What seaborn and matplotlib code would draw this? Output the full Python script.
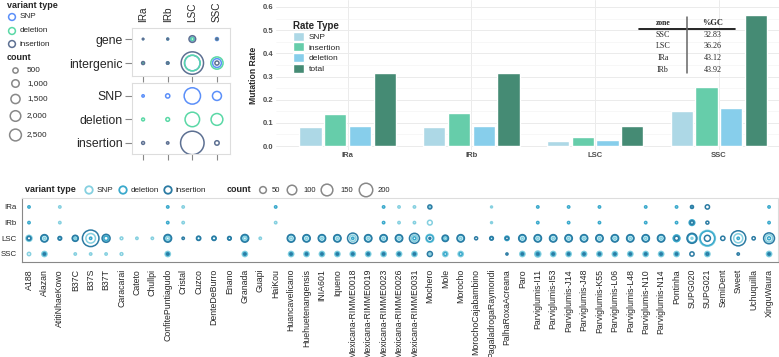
import numpy as np
import pandas as pd
import matplotlib.pyplot as plt
import seaborn as sns

sns.set_style("white")
plt.rcParams['font.family'] = ['Liberation Sans', 'DejaVu Sans']

# ---- datos panel arriba izquierda (conteos por zona) ----
zonas = ["IRa", "IRb", "LSC", "SSC"]
tipos = ["SNP", "deletion", "insertion"]
filas_genic = ["gene", "intergenic"]

gene_snp = [20, 60, 250, 160]
gene_del = [15, 40, 150, 40]
gene_ins = [40, 50, 800, 60]
inter_snp = [60, 100, 4300, 1400]
inter_del = [60, 80, 4400, 2700]
inter_ins = [160, 100, 9000, 300]

total_snp = [100, 320, 4800, 1450]
total_del = [150, 250, 3800, 2500]
total_ins = [150, 100, 9900, 360]

leyenda_count = [500, 1000, 1500, 2000, 2500]

# ---- datos barras (tasa de mutacion) ----
tipos_tasa = ["SNP", "insertion", "deletion", "total"]
tasa_snp = [0.082, 0.083, 0.023, 0.150]
tasa_ins = [0.140, 0.141, 0.039, 0.255]
tasa_del = [0.088, 0.088, 0.025, 0.163]
tasa_total = [0.314, 0.314, 0.086, 0.567]

gc_zonas = ["SSC", "LSC", "IRa", "IRb"]
gc_valores = ["32.83", "36.26", "43.12", "43.92"]

# ---- datos panel de abajo (por accesion) ----
accesiones = ["A188", "Alazan", "AtitiNhaeKowo", "B37C", "B37S", "B37T", "Caracarai",
              "Cateto", "Chullpi", "ConfitePuntiagudo", "Cristal", "Cuzco", "DenteDeBurro",
              "Enano", "Granada", "Guapi", "HaiKou", "Huancavelicano", "Huehuetenangensis",
              "INIA601", "Iqueno", "Mexicana-RIMME0018", "Mexicana-RIMME0019",
              "Mexicana-RIMME0023", "Mexicana-RIMME0026", "Mexicana-RIMME0031", "Mochero",
              "Mole", "Morocho", "MorochoCajabambino", "PagaladrogaRaymondi",
              "PalhaRoxaAcreana", "Paro", "Parviglumis-I11", "Parviglumis-I53",
              "Parviglumis-J14", "Parviglumis-J48", "Parviglumis-K55", "Parviglumis-L06",
              "Parviglumis-L48", "Parviglumis-N10", "Parviglumis-N14", "Pontinha",
              "SUPG020", "SUPG021", "SemiDent", "Sweet", "Uchuquilla", "XinguWaura"]

lsc_snp = [40, 6, 0, 4, 100, 40, 8, 6, 6, 10,
           0, 0, 0, 0, 10, 6, 0, 8, 6, 6,
           6, 45, 6, 6, 6, 45, 70, 6, 6, 0,
           0, 0, 6, 6, 6, 6, 6, 6, 6, 6,
           6, 6, 50, 4, 280, 0, 90, 0, 60]
lsc_del = [20, 45, 8, 30, 6, 20, 0, 0, 0, 45,
           0, 14, 14, 10, 45, 0, 0, 50, 45, 45,
           45, 6, 45, 45, 45, 10, 50, 30, 45, 0,
           8, 22, 45, 45, 45, 45, 45, 45, 45, 45,
           45, 45, 45, 80, 230, 0, 6, 0, 10]
lsc_ins = [15, 60, 15, 40, 300, 70, 0, 0, 0, 65,
           6, 20, 20, 15, 65, 0, 0, 65, 60, 60,
           60, 120, 60, 60, 60, 110, 4, 45, 60, 10,
           15, 10, 60, 60, 60, 60, 60, 60, 60, 60,
           60, 60, 20, 110, 40, 20, 250, 12, 130]
ssc_snp = [12, 30, 0, 6, 6, 6, 8, 0, 0, 30,
           0, 0, 0, 0, 30, 0, 0, 30, 30, 30,
           30, 30, 30, 30, 30, 30, 6, 30, 30, 0,
           0, 0, 30, 40, 30, 30, 30, 30, 30, 30,
           30, 30, 30, 0, 30, 0, 0, 0, 30]
ssc_del = [0, 10, 0, 0, 0, 0, 0, 0, 0, 10,
           0, 0, 0, 0, 10, 0, 0, 10, 10, 10,
           10, 10, 10, 10, 10, 10, 0, 10, 10, 0,
           0, 0, 10, 15, 10, 10, 10, 10, 10, 10,
           10, 10, 10, 0, 10, 0, 0, 0, 10]
ssc_ins = [0, 4, 0, 0, 0, 0, 0, 0, 0, 4,
           0, 0, 0, 0, 4, 0, 0, 4, 4, 4,
           4, 4, 4, 4, 4, 4, 28, 0, 0, 0,
           0, 5, 4, 4, 4, 4, 4, 4, 4, 4,
           4, 4, 4, 20, 5, 0, 6, 0, 4]
ira_snp = [0, 0, 6, 0, 0, 0, 0, 0, 0, 0,
           6, 0, 0, 0, 0, 0, 0, 0, 0, 0,
           0, 0, 0, 0, 6, 6, 4, 0, 0, 0,
           4, 0, 0, 0, 0, 0, 0, 0, 0, 0,
           0, 0, 0, 0, 0, 0, 0, 0, 0]
ira_del = [6, 0, 0, 0, 0, 0, 0, 0, 0, 6,
           0, 0, 0, 0, 0, 0, 6, 0, 0, 0,
           0, 0, 0, 6, 0, 0, 0, 0, 0, 0,
           0, 0, 0, 6, 0, 6, 0, 6, 0, 0,
           6, 0, 6, 6, 0, 0, 0, 0, 6]
ira_ins = [0, 0, 0, 0, 0, 0, 0, 0, 0, 0,
           0, 0, 0, 0, 0, 0, 0, 0, 0, 0,
           0, 0, 0, 0, 0, 0, 18, 0, 0, 0,
           0, 0, 0, 0, 0, 0, 0, 0, 0, 0,
           0, 0, 0, 10, 20, 0, 0, 0, 0]
irb_snp = [0, 0, 6, 0, 0, 0, 0, 0, 0, 0,
           6, 0, 0, 0, 0, 0, 6, 0, 0, 0,
           0, 0, 0, 0, 6, 6, 25, 0, 0, 0,
           4, 0, 0, 0, 0, 0, 0, 0, 0, 0,
           0, 0, 0, 8, 0, 0, 0, 0, 0]
irb_del = [6, 0, 0, 0, 0, 0, 0, 0, 0, 6,
           0, 0, 0, 0, 0, 0, 0, 0, 0, 0,
           0, 0, 0, 6, 0, 0, 0, 0, 0, 0,
           0, 0, 0, 6, 0, 6, 0, 6, 0, 0,
           6, 0, 6, 35, 0, 0, 0, 0, 6]
irb_ins = [0, 0, 0, 0, 0, 0, 0, 0, 0, 0,
           0, 0, 0, 0, 0, 0, 0, 0, 0, 0,
           0, 0, 0, 0, 0, 0, 0, 0, 0, 0,
           0, 0, 0, 0, 0, 0, 0, 0, 0, 0,
           0, 0, 0, 15, 10, 0, 0, 0, 0]
leyenda_count_acc = [50, 100, 150, 200]

# colores
pal_tl = {"SNP": "#5B8FF9", "deletion": "#5AD8A6", "insertion": "#5D7092"}
pal_acc = {"SNP": "#85d0e0", "deletion": "#3aa9cc", "insertion": "#2b7ba3"}
pal_bar = {"SNP": "#ADD8E6", "insertion": "#66CDAA", "deletion": "#87CEEB", "total": "#458B74"}

# area proporcional al conteo (pt^2)
S_TL, M_TL = 288.7, 10000
S_ACC, M_ACC = 141.8, 300
GRIS = "#888888"


def caja(x0, y0, x1, y1):
    return [x0 / 779, 1 - y1 / 357, (x1 - x0) / 779, (y1 - y0) / 357]


def anillos(ax, lw):
    # seaborn rellena los puntos; los pasamos a anillos huecos
    coll = ax.collections[-1]
    fc = coll.get_facecolors()
    coll.set_edgecolors(fc)
    coll.set_facecolors("none")
    coll.set_linewidths(lw)


def puntos(ax, df, S, M, pal, lw):
    sns.scatterplot(data=df, x="x", y="y", hue="tipo", hue_order=tipos, palette=pal,
                    size="count", sizes=(0, S), size_norm=(0, M), legend=False, ax=ax)
    anillos(ax, lw)
    ax.set_xlabel("")
    ax.set_ylabel("")


fig = plt.figure(figsize=(7.79, 3.57), dpi=100)
ax_gen = fig.add_axes(caja(132, 28, 230, 76))
ax_var = fig.add_axes(caja(132, 83, 230, 154))
ax_bar = fig.add_axes(caja(276, 0, 779, 150))
ax_acc = fig.add_axes(caja(22, 198, 778, 262))

# ---- gene / intergenic ----
filas = []
for gi, listas in enumerate([(gene_snp, gene_del, gene_ins), (inter_snp, inter_del, inter_ins)]):
    for t, vals in zip(tipos, listas):
        for zi, v in enumerate(vals):
            filas.append((zi, gi, t, v))
df_gen = pd.DataFrame(filas, columns=["x", "y", "tipo", "count"])
puntos(ax_gen, df_gen, S_TL, M_TL, pal_tl, 1.1)
ax_gen.set_xlim(-0.45, 3.53)
ax_gen.set_ylim(1.54, -0.46)
ax_gen.set_xticks(range(4))
ax_gen.set_xticklabels(zonas, rotation=90)
ax_gen.set_yticks(range(2))
ax_gen.set_yticklabels(filas_genic)
ax_gen.tick_params(axis="x", top=False, labeltop=True, bottom=True, labelbottom=False,
                   length=4, width=0.8, color=GRIS, labelsize=7.2, pad=0)

# ---- por tipo de variante ----
filas = []
for ti, (t, vals) in enumerate(zip(tipos, [total_snp, total_del, total_ins])):
    for zi, v in enumerate(vals):
        filas.append((zi, ti, t, v))
df_var = pd.DataFrame(filas, columns=["x", "y", "tipo", "count"])
puntos(ax_var, df_var, S_TL, M_TL, pal_tl, 1.1)
ax_var.set_xlim(-0.45, 3.53)
ax_var.set_ylim(2.47, -0.55)
ax_var.set_xticks(range(4))
ax_var.set_xticklabels([])
ax_var.set_yticks(range(3))
ax_var.set_yticklabels(tipos)
ax_var.tick_params(axis="x", bottom=True, length=4, width=0.8, color=GRIS)

for ax in (ax_gen, ax_var):
    ax.tick_params(axis="y", left=True, length=5, width=0.8, color=GRIS, labelsize=8.8, pad=2)
    for sp in ax.spines.values():
        sp.set_color("#dddddd")
        sp.set_linewidth(0.8)

# ---- barras ----
bar_df = pd.DataFrame({
    "zona": zonas * 4,
    "tipo": [t for t in tipos_tasa for _ in zonas],
    "tasa": tasa_snp + tasa_ins + tasa_del + tasa_total,
})
sns.barplot(data=bar_df, x="zona", y="tasa", hue="tipo", order=zonas, hue_order=tipos_tasa,
            palette=pal_bar, saturation=1, width=0.8, gap=0.1, ax=ax_bar)
ax_bar.set_xlim(-0.58, 3.487)
ax_bar.set_ylim(-0.017, 0.63)
ax_bar.set_yticks(np.arange(0, 0.61, 0.1))
ax_bar.set_yticklabels([f"{v:.1f}" for v in np.arange(0, 0.61, 0.1)])
ax_bar.set_yticks(np.arange(0.05, 0.61, 0.1), minor=True)
ax_bar.grid(True, which="major", color="#ebebeb", linewidth=0.7)
ax_bar.grid(True, which="minor", axis="y", color="#f2f2f2", linewidth=0.4)
ax_bar.set_axisbelow(True)
for sp in ax_bar.spines.values():
    sp.set_visible(False)
ax_bar.tick_params(axis="both", which="both", length=0, labelsize=5.5, labelcolor="#4d4d4d")
ax_bar.tick_params(axis="y", pad=2)
ax_bar.tick_params(axis="x", pad=1.5)
for lab in ax_bar.get_xticklabels() + ax_bar.get_yticklabels():
    lab.set_fontweight("bold")
ax_bar.set_xlabel("")
ax_bar.set_ylabel("Mutation Rate", fontsize=6.2, fontweight="bold", labelpad=3)
h, l = ax_bar.get_legend_handles_labels()
leg = ax_bar.legend(h, l, title="Rate Type", loc="upper left", bbox_to_anchor=(0.028, 0.885),
                    frameon=False, fontsize=6, title_fontproperties={"weight": "bold", "size": 7},
                    handlelength=1.3, handleheight=1.3, handletextpad=0.5, labelspacing=0.15,
                    borderaxespad=0, alignment="left")

# ---- por accesion ----
filas = []
for ri, grupo in enumerate([(ira_snp, ira_del, ira_ins), (irb_snp, irb_del, irb_ins),
                            (lsc_snp, lsc_del, lsc_ins), (ssc_snp, ssc_del, ssc_ins)]):
    for t, vals in zip(tipos, grupo):
        for ai, v in enumerate(vals):
            if v > 0:
                filas.append((ai, ri, t, v))
df_acc = pd.DataFrame(filas, columns=["x", "y", "tipo", "count"])
puntos(ax_acc, df_acc, S_ACC, M_ACC, pal_acc, 1.1)
ax_acc.set_xlim(-0.454, 48.58)
ax_acc.set_ylim(3.51, -0.57)
ax_acc.set_xticks(range(len(accesiones)))
ax_acc.set_xticklabels(accesiones, rotation=90)
ax_acc.set_yticks(range(4))
ax_acc.set_yticklabels(zonas)
ax_acc.tick_params(axis="x", length=3.5, width=0.8, color=GRIS, labelsize=6.3, pad=1.5)
ax_acc.tick_params(axis="y", length=3, width=0.8, color=GRIS, labelsize=5.7, pad=1)
for lado, sp in ax_acc.spines.items():
    sp.set_linewidth(0.8)
    sp.set_color(GRIS if lado in ("left", "bottom") else "#dddddd")

# ---- leyendas y tabla (coordenadas en pixeles) ----
ov = fig.add_axes([0, 0, 1, 1])
ov.set_xlim(0, 779)
ov.set_ylim(357, 0)
ov.axis("off")


def anillo(x, y, s, c, lw=1.1):
    ov.scatter([x], [y], s=s, facecolors="none", edgecolors=c, linewidths=lw)


ov.text(7, 5, "variant type", fontsize=6.5, fontweight="bold", va="center")
for t, yy in zip(tipos, [17, 31, 44]):
    anillo(12, yy, 24, pal_tl[t])
    ov.text(20, yy, t, fontsize=5.9, va="center")
ov.text(7, 58, "count", fontsize=6.5, fontweight="bold", va="center")
for c, yy in zip(leyenda_count, [70.5, 83.5, 99, 116, 135]):
    anillo(15.5, yy, c * S_TL / M_TL, GRIS)
    ov.text(27, yy, f"{c:,}", fontsize=5.9, va="center")

ov.text(25, 190, "variant type", fontsize=6.5, fontweight="bold", va="center")
for t, xx in zip(tipos, [89, 123, 168]):
    anillo(xx, 190, 29, pal_acc[t], 1.3)
    ov.text(xx + 8, 190, t, fontsize=5.9, va="center")
ov.text(227, 190, "count", fontsize=6.5, fontweight="bold", va="center")
for c, xx, xt in zip(leyenda_count_acc, [263, 292, 327, 366], [272, 303, 340, 378]):
    anillo(xx, 190, c * S_ACC / M_ACC, GRIS)
    ov.text(xt, 190, str(c), fontsize=5.5, va="center")

# tabla %GC
serif = ["Liberation Serif", "DejaVu Serif"]
ov.text(663, 23, "zone", family=serif, fontsize=5.5, fontweight="bold", ha="center", va="center")
ov.text(713, 23, "%GC", family=serif, fontsize=6, fontweight="bold", ha="center", va="center")
ov.plot([639, 735], [29, 29], color="black", lw=1.2)
ov.plot([687, 687], [17, 73], color="#666666", lw=1.1)
for z, v, yy in zip(gc_zonas, gc_valores, [35, 46.5, 58, 69.5]):
    ov.text(663, yy, z, family=serif, fontsize=5.8, ha="center", va="center")
    ov.text(713, yy, v, family=serif, fontsize=5.8, ha="center", va="center")

fig.savefig("out.png", dpi=100)
